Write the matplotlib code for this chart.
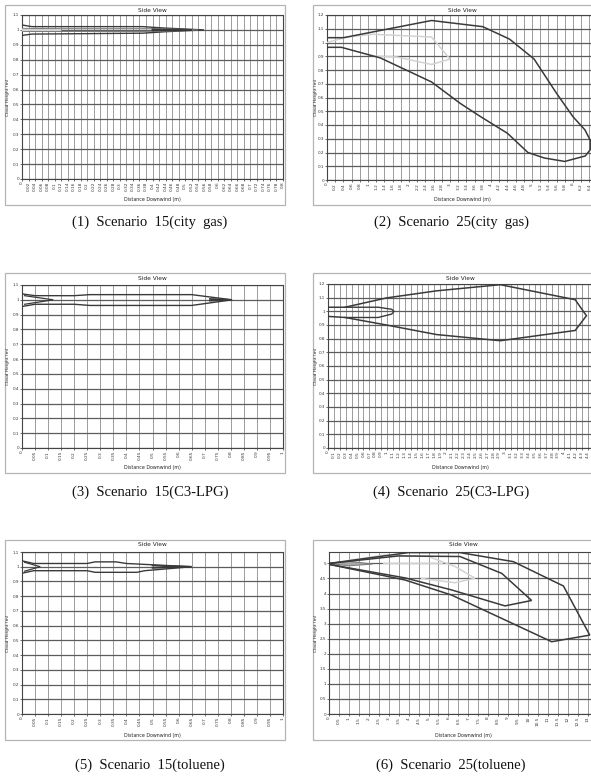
import numpy as np
import matplotlib.pyplot as plt
from matplotlib.patches import Rectangle

W, H = 591, 776

# ---------------------------------------------------------------------------
# contour outlines read off the six ALOHA "Side View" screenshots
# ---------------------------------------------------------------------------
# (1) Scenario 15 (city gas)
p1_outer_x = [0, 0.03, 0.37, 0.44, 0.558, 0.44, 0.37, 0.03, 0]
p1_outer_y = [1.033, 1.022, 1.022, 1.012, 1.0, 0.988, 0.978, 0.972, 0.963]
p1_mid_x = [0, 0.12, 0.38, 0.45, 0.54, 0.45, 0.38, 0.12, 0]
p1_mid_y = [1.01, 1.008, 1.008, 1.006, 1.0, 0.993, 0.99, 0.99, 0.99]
p1_light_x = [0, 0.12, 0]
p1_light_y = [1.004, 1.0, 0.996]
p1_core_x = [0.40, 0.52, 0.40]
p1_core_y = [1.004, 1.0, 0.996]

# (2) Scenario 25 (city gas)
p2_outer_x = [0, 0.4, 2.55, 3.8, 4.45, 5.05, 5.6, 6.0, 6.29, 6.42, 6.42, 6.3,
              5.8, 5.3, 4.9, 4.4, 3.75, 3.25, 2.55, 1.3, 0.35, 0]
p2_outer_y = [1.035, 1.035, 1.16, 1.115, 1.025, 0.88, 0.63, 0.46, 0.365, 0.29, 0.22, 0.175,
              0.135, 0.16, 0.2, 0.34, 0.46, 0.557, 0.713, 0.888, 0.965, 0.965]
p2_light_x = [0, 0.5, 1.1, 2.55, 3.0, 2.55, 1.7, 1.2]
p2_light_y = [1.0, 1.04, 1.06, 1.04, 0.88, 0.84, 0.895, 0.9]

# (3) Scenario 15 (C3-LPG)
p3_outer_x = [0, 0.05, 0.2, 0.26, 0.65, 0.805, 0.65, 0.26, 0.2, 0.05, 0]
p3_outer_y = [1.04, 1.028, 1.028, 1.035, 1.035, 1.0, 0.962, 0.962, 0.97, 0.97, 0.955]
p3_inner_x = [0.01, 0.12, 0.01]
p3_inner_y = [1.028, 1.0, 0.97]
p3_tip_x = [0.72, 0.80, 0.72]
p3_tip_y = [1.006, 1.0, 0.994]

# (4) Scenario 25 (C3-LPG)
p4_outer_x = [0, 0.29, 0.99, 1.84, 2.92, 4.19, 4.38, 4.19, 2.92, 1.84, 0.99, 0.29, 0]
p4_outer_y = [1.03, 1.03, 1.098, 1.15, 1.195, 1.085, 0.968, 0.86, 0.785, 0.83, 0.9, 0.955, 0.963]
p4_inner_x = [0.29, 0.85, 1.08, 1.12, 1.08, 0.85, 0.29]
p4_inner_y = [1.03, 1.03, 1.015, 1.0, 0.98, 0.955, 0.955]

# (5) Scenario 15 (toluene)
p5_outer_x = [0, 0.045, 0.25, 0.28, 0.36, 0.40, 0.65, 0.47, 0.44, 0.28, 0.25, 0.045, 0]
p5_outer_y = [1.04, 1.022, 1.022, 1.033, 1.033, 1.022, 1.0, 0.973, 0.962, 0.962, 0.973, 0.973, 0.956]
p5_inner_x = [0.01, 0.07, 0.01]
p5_inner_y = [1.03, 1.0, 0.97]
p5_tip_x = [0.50, 0.65, 0.50]
p5_tip_y = [1.008, 1.0, 0.992]

# (6) Scenario 25 (toluene)
p6_outer_x = [0, 3.99, 6.58, 9.26, 11.78, 13.1, 11.19, 6.16, 3.82, 0]
p6_outer_y = [5.0, 5.36, 5.36, 5.06, 4.25, 2.62, 2.40, 3.95, 4.45, 4.97]
p6_mid_x = [0, 3.5, 6.58, 8.68, 10.18, 8.84, 6.16, 3.82, 0]
p6_mid_y = [5.0, 5.25, 5.23, 4.67, 3.77, 3.59, 4.12, 4.52, 4.97]
p6_light_x = [1.0, 2.8, 5.0, 6.33, 7.34, 6.33, 4.66]
p6_light_y = [5.1, 5.28, 5.23, 4.9, 4.51, 4.36, 4.5]
p6_light2_x = [2.7, 5.7]
p6_light2_y = [5.0, 5.0]
p6_core_x = [0, 1.0, 2.2, 1.0, 0]
p6_core_y = [5.0, 5.07, 4.98, 4.92, 5.0]

captions = ["(1)  Scenario  15(city  gas)", "(2)  Scenario  25(city  gas)",
            "(3)  Scenario  15(C3-LPG)", "(4)  Scenario  25(C3-LPG)",
            "(5)  Scenario  15(toluene)", "(6)  Scenario  25(toluene)"]

DARK = "#3a3a3a"
LIGHT = "#d2d2d2"
MID = "#7a7a7a"

# pixel layout: frame box, plot box (left, top, right, bottom), caption centre
panels = [
    dict(frame=(5, 5, 285, 205), plot=(22, 15, 283, 179), xmax=0.8, xstep=0.02, ymax=1.1, ystep=0.1,
         cap=(150, 222),
         lines=[(p1_outer_x, p1_outer_y, DARK, 1.0), (p1_mid_x, p1_mid_y, MID, 0.8),
                (p1_light_x, p1_light_y, LIGHT, 0.9), (p1_core_x, p1_core_y, DARK, 1.2)]),
    dict(frame=(313, 5, 610, 205), plot=(327, 15, 597.6, 180), xmax=6.6, xstep=0.2, ymax=1.2, ystep=0.1,
         cap=(451, 222),
         lines=[(p2_light_x, p2_light_y, LIGHT, 1.1), (p2_outer_x, p2_outer_y, DARK, 1.1)]),
    dict(frame=(5, 273, 285, 473), plot=(22, 285, 283, 448), xmax=1.0, xstep=0.05, ymax=1.1, ystep=0.1,
         cap=(150, 492),
         lines=[(p3_outer_x, p3_outer_y, DARK, 1.0), (p3_inner_x, p3_inner_y, DARK, 0.9),
                (p3_tip_x, p3_tip_y, DARK, 1.2)]),
    dict(frame=(313, 273, 610, 473), plot=(328, 284, 593.5, 448), xmax=4.5, xstep=0.1, ymax=1.2, ystep=0.1,
         cap=(451, 492),
         lines=[(p4_outer_x, p4_outer_y, DARK, 1.1), (p4_inner_x, p4_inner_y, DARK, 1.0)]),
    dict(frame=(5, 540, 285, 740), plot=(22, 552, 283, 714), xmax=1.0, xstep=0.05, ymax=1.1, ystep=0.1,
         cap=(150, 765),
         lines=[(p5_outer_x, p5_outer_y, DARK, 1.0), (p5_inner_x, p5_inner_y, DARK, 0.9),
                (p5_tip_x, p5_tip_y, DARK, 1.2)]),
    dict(frame=(313, 540, 610, 740), plot=(329, 552, 597.7, 714), xmax=13.5, xstep=0.5, ymax=5.38, ystep=0.5,
         cap=(451, 765),
         lines=[(p6_light_x, p6_light_y, LIGHT, 1.1), (p6_light2_x, p6_light2_y, LIGHT, 1.0),
                (p6_mid_x, p6_mid_y, DARK, 1.1), (p6_outer_x, p6_outer_y, DARK, 1.1)],
         fill=(p6_core_x, p6_core_y)),
]

fig = plt.figure(figsize=(W / 100, H / 100), dpi=100)
fig.patch.set_facecolor("white")


def fbox(l, t, r, b):
    return [l / W, 1 - b / H, (r - l) / W, (b - t) / H]


def fmt(v):
    return f"{round(v, 3):g}"


for p in panels:
    fl, ft, fr, fb = p["frame"]
    fig.patches.append(Rectangle((fl / W, 1 - fb / H), (fr - fl) / W, (fb - ft) / H,
                                 transform=fig.transFigure, fill=False, edgecolor="#b4b4b4", linewidth=0.9))
    pl, pt, pr, pb = p["plot"]
    ax = fig.add_axes(fbox(pl, pt, pr, pb))
    ax.set_xlim(0, p["xmax"])
    ax.set_ylim(0, p["ymax"])
    xt = np.round(np.arange(0, p["xmax"] + 1e-9, p["xstep"]), 3)
    yt = np.round(np.arange(0, p["ymax"] + 1e-9, p["ystep"]), 3)
    ax.set_xticks(xt)
    ax.set_xticklabels([fmt(v) for v in xt], rotation=90, fontsize=3.1)
    ax.set_yticks(yt)
    ax.set_yticklabels([fmt(v) for v in yt], fontsize=3.0)
    ax.tick_params(length=1.2, width=0.5, pad=0.8, colors="#333333")
    for v in xt:
        ax.axvline(v, color="#9c9c9c", linewidth=0.7, zorder=1)
    for v in yt:
        ax.axhline(v, color="#5c5c5c", linewidth=0.9, zorder=1)
    for s in ax.spines.values():
        s.set_color("#444444")
        s.set_linewidth(0.8)
    if "fill" in p:
        ax.fill(p["fill"][0], p["fill"][1], color="#a8a8a8", edgecolor=MID, linewidth=0.7, zorder=3)
    for xs, ys, c, lw in p["lines"]:
        ax.plot(xs, ys, color=c, linewidth=lw, zorder=4, solid_joinstyle="miter")

    fig.text(((pl + pr) / 2) / W, 1 - (ft + 5) / H, "Side View",
             fontsize=4.2, ha="center", va="center", color="#222222")
    fig.text(((pl + pr) / 2) / W, 1 - (fb - 5) / H, "Distance Downwind (m)",
             fontsize=3.4, ha="center", va="center", color="#222222")
    fig.text((fl + 3.2) / W, 1 - ((pt + pb) / 2) / H, "Cloud Height (m)", rotation=90,
             fontsize=3.2, ha="center", va="center", color="#222222")

for p, cap in zip(panels, captions):
    fig.text(p["cap"][0] / W, 1 - p["cap"][1] / H, cap, fontsize=10.5,
             family="Liberation Serif", ha="center", va="center", color="#111111")

fig.savefig("out.png", dpi=100, facecolor="white")
